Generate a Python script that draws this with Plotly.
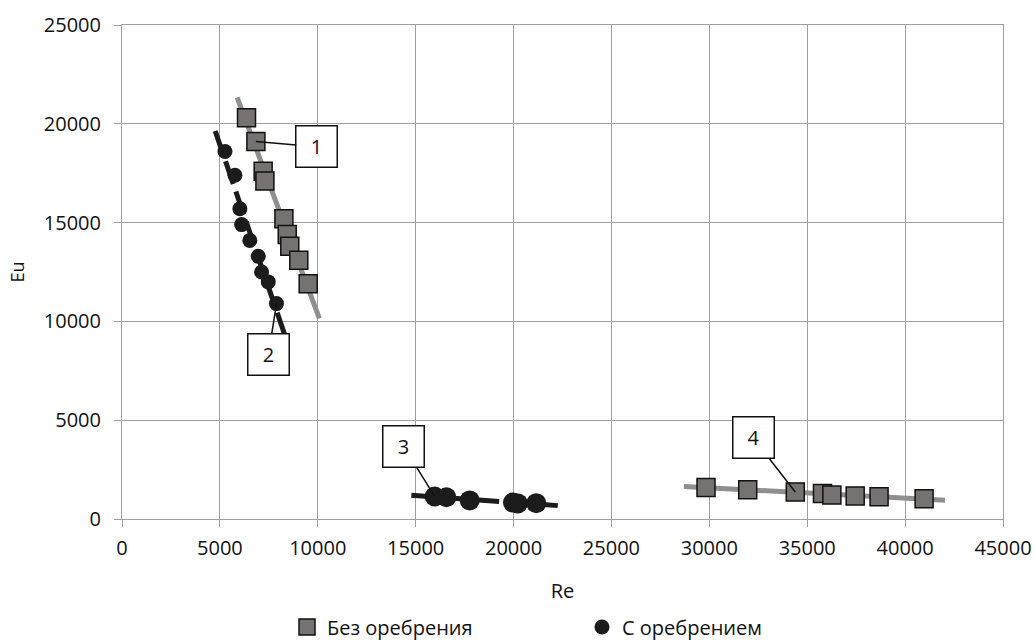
import numpy as np
import plotly.graph_objects as go

# ---- data ----
re1 = [6360, 6840, 7210, 7300, 8270, 8440, 8570, 9030, 9510]
eu1 = [20300, 19100, 17600, 17100, 15200, 14400, 13800, 13100, 11900]

re2 = [5260, 5770, 6020, 6110, 6530, 6960, 7130, 7470, 7890]
eu2 = [18600, 17400, 15700, 14900, 14100, 13300, 12500, 12000, 10900]

re3 = [15970, 16570, 17760, 19970, 20220, 21160]
eu3 = [1140, 1100, 940, 830, 790, 800]

re4 = [29830, 31960, 34390, 35780, 36260, 37450, 38670, 40970]
eu4 = [1590, 1480, 1370, 1290, 1210, 1170, 1120, 1030]

name_sq = "Без оребрения"
name_ci = "С оребрением"
labels = ["1", "2", "3", "4"]
label_idx = [1, 8, 0, 2]                 # point each callout points at
forecast_back = [480, 500, 1190, 1130]   # linear trendline forecast backward (Re)
forecast_fwd = [570, 430, 1100, 1070]    # linear trendline forecast forward (Re)

x_ticks = list(range(0, 45001, 5000))
y_ticks = list(range(0, 25001, 5000))

# ---- styles ----
SQ_FILL = "#777272"
GRAY_LINE = "#8f8f8f"
BLACK = "#1b1b1b"
FONT = "Open Sans"

series = [
    (re1, eu1, "square"),
    (re2, eu2, "circle"),
    (re3, eu3, "circle"),
    (re4, eu4, "square"),
]

fig = go.Figure()

# linear trendlines, drawn under the markers
for i, (xs, ys, kind) in enumerate(series):
    k, c = np.polyfit(xs, ys, 1)
    xt = np.array([min(xs) - forecast_back[i], max(xs) + forecast_fwd[i]])
    yt = k * xt + c
    if kind == "square":
        line = dict(color=GRAY_LINE, width=5)
    else:
        line = dict(color=BLACK, width=5, dash="24px,8px")
    fig.add_trace(go.Scatter(x=xt, y=yt, mode="lines", line=line,
                             showlegend=False, hoverinfo="skip"))

# markers
for i, (xs, ys, kind) in enumerate(series):
    if kind == "square":
        marker = dict(symbol="square", size=18, color=SQ_FILL,
                      line=dict(color="#111111", width=1.5))
        nm, lg = name_sq, "legend"
        show = i == 0
    else:
        sz = 15 if i == 1 else 20
        marker = dict(symbol="circle", size=sz, color=BLACK,
                      line=dict(color=BLACK, width=0))
        nm, lg = name_ci, "legend2"
        show = i == 1
    fig.add_trace(go.Scatter(x=xs, y=ys, mode="markers", marker=marker,
                             name=nm, legend=lg, showlegend=show))

# callout labels
offsets = [(61, 5), (-8, 51), (-31, -50), (-42, -54)]
for i, (xs, ys, kind) in enumerate(series):
    k = label_idx[i]
    fig.add_annotation(
        x=xs[k], y=ys[k], text=labels[i], showarrow=True, arrowhead=0,
        arrowwidth=1.5, arrowcolor="#111111", standoff=0,
        ax=offsets[i][0], ay=offsets[i][1],
        width=40, height=40, borderpad=0, borderwidth=1.5,
        bordercolor="#111111", bgcolor="white",
        font=dict(family=FONT, size=20, color="#111111"),
    )

axis_common = dict(
    showgrid=True, gridcolor="#a0a0a0", gridwidth=1,
    showline=True, linecolor="#a0a0a0", linewidth=1, mirror=True,
    ticks="outside", ticklen=7, tickcolor="#a0a0a0",
    zeroline=False, automargin=False,
    tickfont=dict(family=FONT, size=20, color="#111111"),
)

fig.update_xaxes(range=[0, 45000], tickvals=x_ticks, ticktext=[str(v) for v in x_ticks],
                 ticklabelstandoff=4,
                 title=dict(text="Re", font=dict(family=FONT, size=20, color="#111111"),
                            standoff=23),
                 **axis_common)
fig.update_yaxes(range=[0, 25000], tickvals=y_ticks, ticktext=[str(v) for v in y_ticks],
                 ticklabelstandoff=9,
                 title=dict(text="Eu", font=dict(family=FONT, size=18, color="#111111"),
                            standoff=14),
                 **axis_common)

legend_common = dict(
    orientation="h", xref="container", yref="container",
    yanchor="middle", y=(642 - 627) / 642, xanchor="left",
    font=dict(family=FONT, size=20, color="#111111"),
    bgcolor="rgba(0,0,0,0)", borderwidth=0,
)

fig.update_layout(
    width=1035, height=642,
    margin=dict(l=122, r=32, t=25, b=123),
    paper_bgcolor="white", plot_bgcolor="white",
    showlegend=True,
    legend=dict(x=287 / 1035, **legend_common),
    legend2=dict(x=582 / 1035, **legend_common),
    font=dict(family=FONT),
)

fig.write_html("out.html", config={"displayModeBar": False},
               post_script="document.body.style.margin='0';")
